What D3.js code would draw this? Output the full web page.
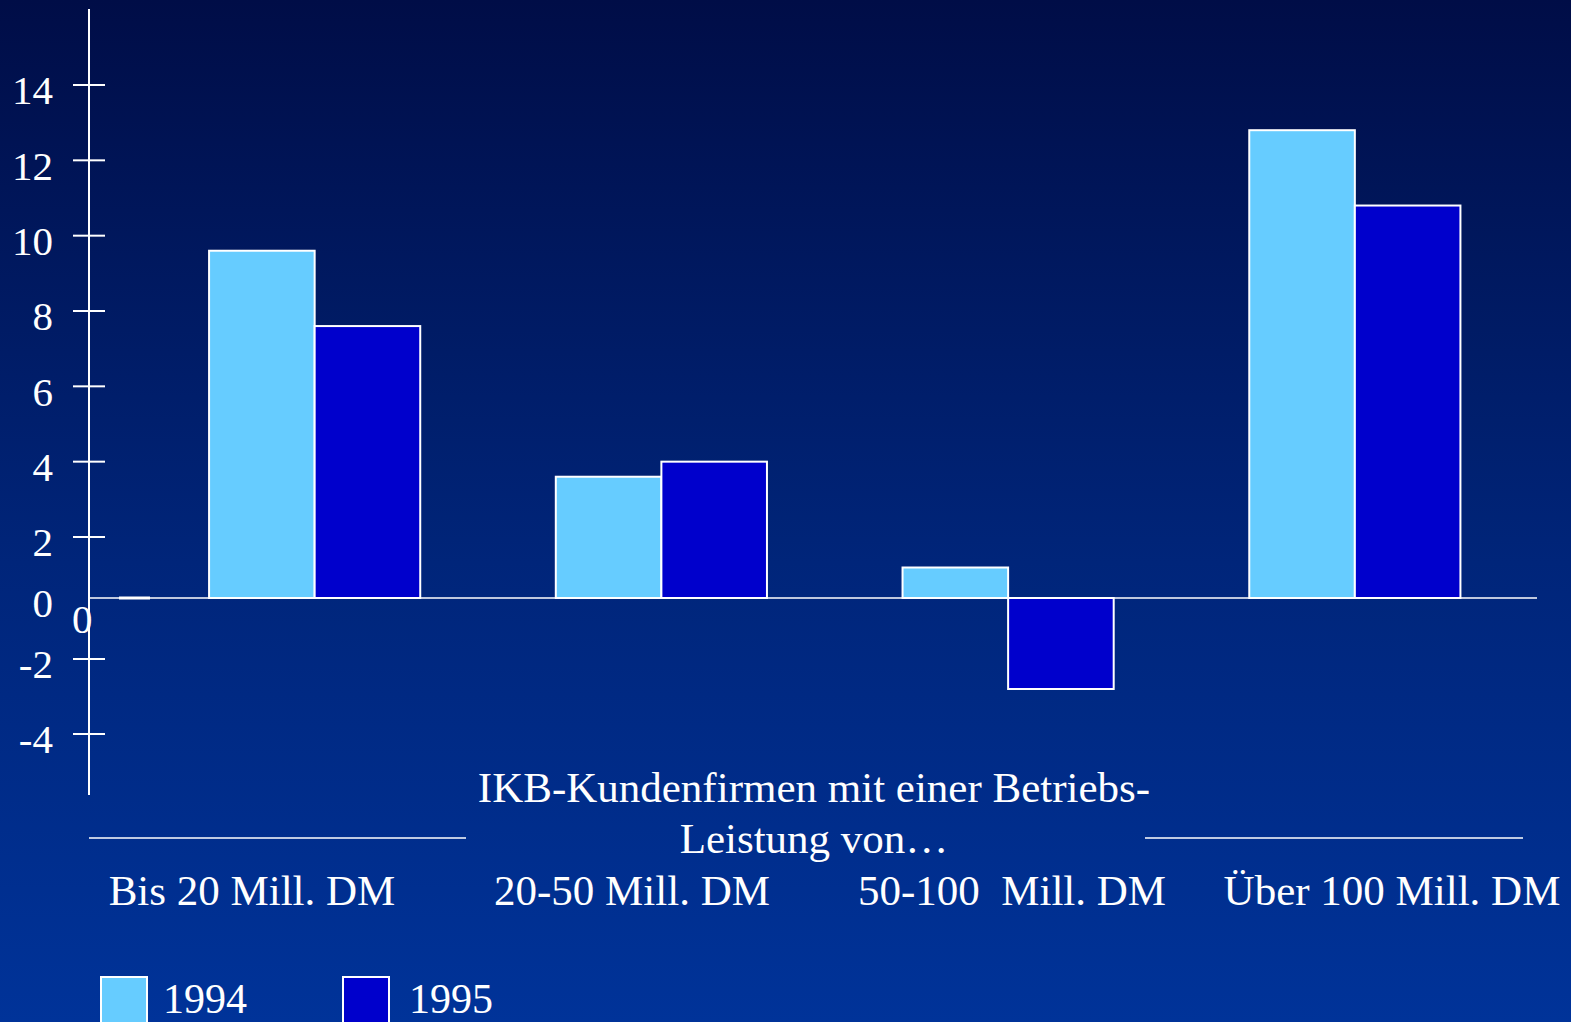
<!DOCTYPE html>
<html>
<head>
<meta charset="utf-8">
<script src="https://cdn.jsdelivr.net/npm/d3@7"></script>
<style>
  html, body { margin: 0; padding: 0; overflow: hidden; }
  svg { display: block; }
  text { font-family: "Liberation Serif", "Times New Roman", serif; fill: #fff; }
</style>
</head>
<body>
<div class="canvas"></div>
<script>
'use strict';
var categories = ["Bis 20 Mill. DM", "20-50 Mill. DM", "50-100  Mill. DM", "Über 100 Mill. DM"];
var series = ["1994", "1995"];
var values1994 = [9.6, 3.6, 1.0, 12.8];
var values1995 = [7.6, 4.0, -2.8, 10.8];
var tickValues = [14, 12, 10, 8, 6, 4, 2, -2, -4];
var titleLines = ["IKB-Kundenfirmen mit einer Betriebs-", "Leistung von\u2026"];

var W = 1571, H = 1022;
var colors = {"1994": "#66ccff", "1995": "#0000cc"};

var svg = d3.select(".canvas").append("svg")
    .attr("width", W)
    .attr("height", H);

var defs = svg.append("defs");
var grad = defs.append("linearGradient")
    .attr("id", "bg").attr("x1", 0).attr("y1", 0).attr("x2", 0).attr("y2", 1);
grad.append("stop").attr("offset", "0%").attr("stop-color", "#000d47");
grad.append("stop").attr("offset", "55%").attr("stop-color", "#00257a");
grad.append("stop").attr("offset", "100%").attr("stop-color", "#003399");
svg.append("rect").attr("width", W).attr("height", H).attr("fill", "url(#bg)");

// the original axis is not evenly spaced around zero, so the scale is piecewise
var y = d3.scaleLinear()
    .domain([-4, -2, 0, 2, 14])
    .range([734, 659, 598, 537, 85]);

var x0 = d3.scaleBand()
    .domain(categories)
    .range([73.5, 1596])
    .paddingInner(0.391)
    .paddingOuter(0.391);
var x1 = d3.scaleBand()
    .domain(series)
    .range([0, x0.bandwidth()]);

var labelX = d3.scalePoint()
    .domain(categories)
    .range([252, 1392]);

// y axis
var axisX = 89;
svg.append("line")
    .attr("x1", axisX).attr("x2", axisX)
    .attr("y1", 9).attr("y2", 795)
    .attr("stroke", "#fff").attr("stroke-width", 2);

var ticks = svg.append("g");
tickValues.forEach(function(v) {
    ticks.append("line")
        .attr("x1", 73).attr("x2", 105)
        .attr("y1", y(v)).attr("y2", y(v))
        .attr("stroke", "#fff").attr("stroke-width", 2);
    ticks.append("text")
        .attr("x", 53).attr("y", y(v))
        .attr("dy", "0.47em")
        .attr("text-anchor", "end")
        .attr("font-size", 41)
        .text(v);
});
ticks.append("text")
    .attr("x", 53).attr("y", y(0) + 19)
    .attr("text-anchor", "end")
    .attr("font-size", 41)
    .text("0");
ticks.append("text")
    .attr("x", 72).attr("y", y(0) + 35)
    .attr("font-size", 41)
    .text("0");

// bars
var rows = [];
categories.forEach(function(c, i) {
    rows.push({cat: c, s: "1994", v: values1994[i]});
    rows.push({cat: c, s: "1995", v: values1995[i]});
});

svg.append("g").selectAll("rect")
    .data(rows)
    .enter().append("rect")
    .attr("x", function(d) { return x0(d.cat) + x1(d.s); })
    .attr("y", function(d) { return Math.min(y(d.v), y(0)); })
    .attr("width", x1.bandwidth())
    .attr("height", function(d) { return Math.abs(y(d.v) - y(0)); })
    .attr("fill", function(d) { return colors[d.s]; })
    .attr("stroke", "#fff")
    .attr("stroke-width", 2);

// zero line
svg.append("line")
    .attr("x1", axisX).attr("x2", 1537)
    .attr("y1", y(0)).attr("y2", y(0))
    .attr("stroke", "#fff").attr("stroke-width", 1.5);
svg.append("line")
    .attr("x1", 119).attr("x2", 150)
    .attr("y1", y(0)).attr("y2", y(0))
    .attr("stroke", "#fff").attr("stroke-width", 3);

// axis title with side rules
svg.selectAll(".title")
    .data(titleLines)
    .enter().append("text")
    .attr("class", "title")
    .attr("x", 814)
    .attr("y", function(d, i) { return 802 + i * 51; })
    .attr("text-anchor", "middle")
    .attr("font-size", 43)
    .text(function(d) { return d; });

svg.append("line").attr("x1", 89).attr("x2", 466).attr("y1", 838).attr("y2", 838)
    .attr("stroke", "#fff").attr("stroke-width", 1.5);
svg.append("line").attr("x1", 1145).attr("x2", 1523).attr("y1", 838).attr("y2", 838)
    .attr("stroke", "#fff").attr("stroke-width", 1.5);

// category labels
svg.selectAll(".cat")
    .data(categories)
    .enter().append("text")
    .attr("class", "cat")
    .attr("x", function(d) { return labelX(d); })
    .attr("y", 905)
    .attr("text-anchor", "middle")
    .attr("font-size", 43)
    .attr("xml:space", "preserve")
    .style("white-space", "pre")
    .text(function(d) { return d; });

// legend
var legendX = d3.scalePoint().domain(series).range([101, 343]);
var lg = svg.append("g").selectAll("g")
    .data(series)
    .enter().append("g")
    .attr("transform", function(d) { return "translate(" + legendX(d) + ",977)"; });
lg.append("rect")
    .attr("width", 46).attr("height", 60)
    .attr("fill", function(d) { return colors[d]; })
    .attr("stroke", "#fff").attr("stroke-width", 2);
lg.append("text")
    .attr("x", function(d, i) { return 62 + i * 4; })
    .attr("y", 36)
    .attr("font-size", 42)
    .text(function(d) { return d; });
</script>
</body>
</html>
